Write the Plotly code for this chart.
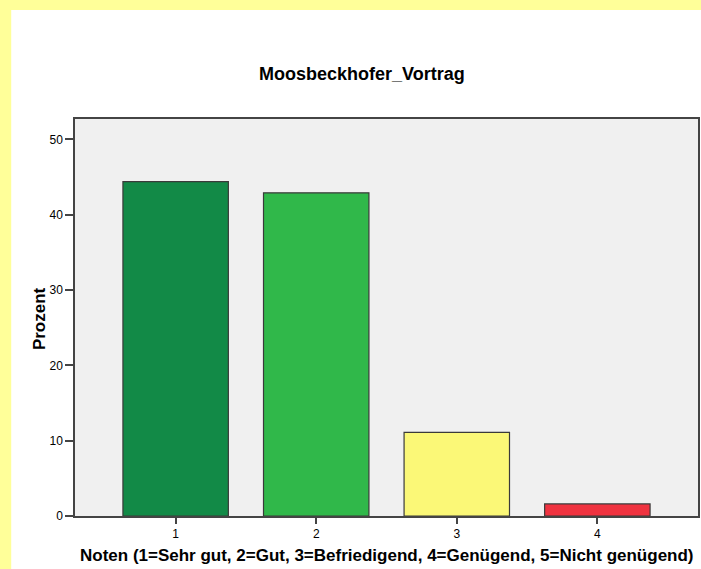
import plotly.graph_objects as go

# Data
categories = ["1", "2", "3", "4"]
positions = [1, 2, 3, 4]
percent = [44.4, 42.9, 11.1, 1.6]
bar_colors = ["#128A47", "#30B84A", "#FBF877", "#EF3340"]
y_ticks = [0, 10, 20, 30, 40, 50]

title_text = "Moosbeckhofer_Vortrag"
x_title = "Noten (1=Sehr gut, 2=Gut, 3=Befriedigend, 4=Genügend, 5=Nicht genügend)"
y_title = "Prozent"

W, H = 701, 569
L, R, T, B = 75, 1, 119, 53
PW = W - L - R
PH = H - T - B


def px_x(px):
    return (px - L) / PW


def px_y(py):
    return (H - B - py) / PH


FONT = "Liberation Sans, Arial, sans-serif"
AXCOL = "#444444"

fig = go.Figure()
fig.add_trace(go.Bar(
    x=positions,
    y=percent,
    width=0.75,
    marker=dict(color=bar_colors, line=dict(color="#3a3a3a", width=1.2)),
    showlegend=False,
    hoverinfo="x+y",
))

fig.update_layout(
    width=W, height=H,
    margin=dict(l=L, r=R, t=T, b=B, pad=0),
    paper_bgcolor="#FFFF99",
    plot_bgcolor="rgba(0,0,0,0)",
    font=dict(family=FONT, color="#000000"),
    bargap=0.25,
    shapes=[
        dict(type="rect", xref="paper", yref="paper", layer="below",
             x0=px_x(11), x1=px_x(W + 5), y0=px_y(10), y1=px_y(H + 5),
             fillcolor="#FFFFFF", line=dict(width=0)),
        dict(type="rect", xref="paper", yref="paper", layer="below",
             x0=0, x1=1, y0=0, y1=1,
             fillcolor="#F0F0F0", line=dict(width=0)),
    ],
    annotations=[
        dict(text=f"<b>{title_text}</b>", xref="paper", yref="paper",
             x=px_x(362.5), y=px_y(74), xanchor="center", yanchor="middle",
             showarrow=False, font=dict(size=18, family=FONT, color="#000")),
        dict(text=f"<b>{x_title}</b>", xref="paper", yref="paper",
             x=px_x(388), y=px_y(555), xanchor="center", yanchor="middle",
             showarrow=False, font=dict(size=17, family=FONT, color="#000")),
        dict(text=f"<b>{y_title}</b>", xref="paper", yref="paper",
             x=px_x(39), y=px_y(319), xanchor="center", yanchor="middle",
             textangle=-90,
             showarrow=False, font=dict(size=17, family=FONT, color="#000")),
    ],
)

fig.update_xaxes(
    range=[0.284, 4.716],
    tickmode="array", tickvals=positions, ticktext=categories,
    ticks="outside", ticklen=6, tickwidth=1.5, tickcolor=AXCOL,
    tickfont=dict(size=12, family=FONT, color="#000"),
    showline=True, linecolor=AXCOL, linewidth=1.5, mirror=True,
    showgrid=False, zeroline=False, fixedrange=True,
)
fig.update_yaxes(
    range=[0, 52.7],
    tickmode="array", tickvals=y_ticks,
    ticks="outside", ticklen=8, tickwidth=1.5, tickcolor=AXCOL,
    tickfont=dict(size=12, family=FONT, color="#000"),
    showline=True, linecolor=AXCOL, linewidth=1.5, mirror=True,
    showgrid=False, zeroline=False, fixedrange=True,
)

fig.write_html(
    "out.html",
    config={"displayModeBar": False},
    post_script="document.body.style.margin='0';document.body.style.overflow='hidden';",
)
